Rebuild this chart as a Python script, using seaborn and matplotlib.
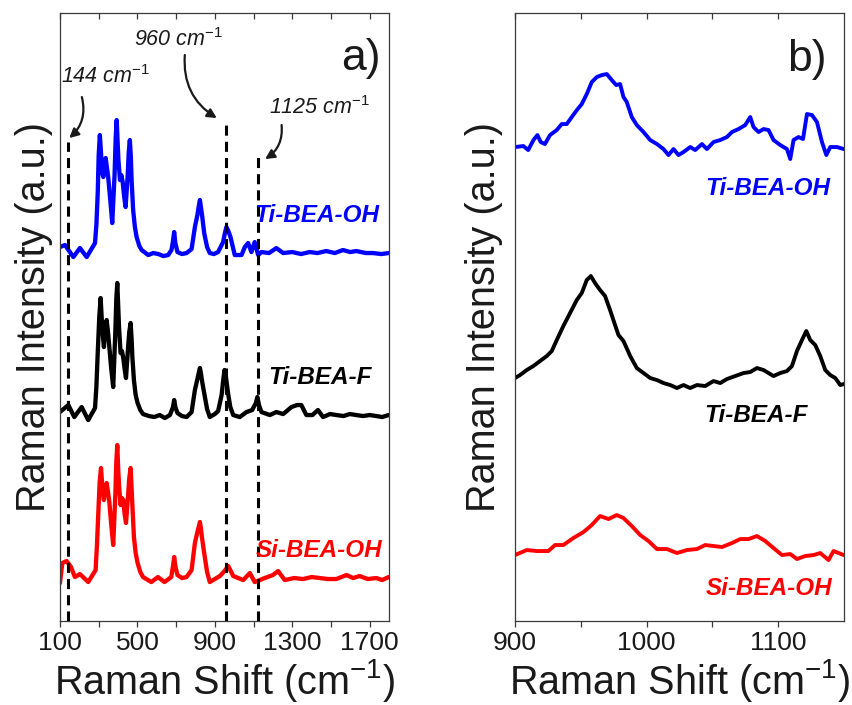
import numpy as np
import pandas as pd
import matplotlib
matplotlib.use("Agg")
import matplotlib.pyplot as plt
import seaborn as sns

# ---------------- data: full-range Raman spectra (panel a) ----------------
ti_oh_shift = [100, 126, 169, 203, 238, 281, 288, 295, 300, 306, 312, 318, 324, 330, 336,
               342, 349, 360, 370, 382, 388, 393, 398, 402, 410, 417, 424, 432, 439, 450,
               455, 461, 466, 470, 478, 487, 496, 510, 522, 556, 582, 608, 634, 659, 676,
               684, 690, 696, 707, 730, 754, 780, 797, 810, 818, 823, 828, 834, 845, 860,
               874, 895, 917, 943, 952, 960, 970, 981, 1003, 1038, 1055, 1072, 1089, 1106,
               1124, 1141, 1180, 1218, 1253, 1300, 1345, 1390, 1430, 1476, 1520, 1562,
               1600, 1631, 1680, 1717, 1760, 1798]
ti_oh_int = [8, 10, -2, 7, -2, 12, 30, 62, 100, 120, 102, 82, 78, 92, 97,
             88, 78, 55, 32, 80, 118, 135, 112, 95, 75, 80, 73, 58, 48, 80,
             102, 115, 98, 75, 45, 28, 18, 9, 5, 0, 2, 1, -1, 0, 5,
             14, 23, 12, 3, 1, 2, 6, 28, 40, 50, 55, 48, 40, 22, 8,
             2, 1, 3, 13, 22, 28, 24, 18, 0, 0, 8, 12, 3, 13,
             0, 3, 2, 7, 2, 3, 1, 3, 2, 4, 2, 5,
             3, 4, 2, 2, 1, 2]

ti_f_shift = [100, 143, 174, 212, 246, 281, 288, 295, 303, 310, 318, 327, 334, 341, 348,
              355, 365, 375, 386, 391, 396, 401, 405, 413, 420, 427, 434, 441, 452, 458,
              465, 470, 474, 482, 491, 501, 515, 529, 560, 587, 615, 642, 668, 684, 690,
              696, 707, 730, 754, 780, 797, 810, 818, 823, 828, 834, 845, 860, 874, 900,
              917, 935, 944, 950, 956, 969, 980, 995, 1029, 1064, 1093, 1112, 1120, 1128,
              1141, 1184, 1218, 1253, 1296, 1325, 1347, 1373, 1404, 1433, 1459, 1495,
              1528, 1565, 1597, 1630, 1666, 1700, 1734, 1765, 1798]
ti_f_int = [5, 12, 0, 10, -3, 9, 30, 64, 100, 119, 90, 70, 88, 97, 85,
            70, 48, 30, 85, 118, 134, 110, 90, 64, 66, 59, 48, 39, 70, 85,
            94, 78, 60, 37, 22, 14, 7, 3, 1, 0, 2, -1, 2, 10, 17,
            10, 4, 1, 0, 5, 27, 38, 45, 49, 44, 36, 24, 8, 0, 3,
            6, 22, 38, 47, 42, 23, 10, 2, 0, 5, 7, 14, 20, 12,
            5, 2, 5, 3, 10, 12, 12, 2, 2, 7, 0, 3,
            2, 1, 3, 2, 1, 2, 1, 0, 2]

si_oh_shift = [100, 112, 134, 157, 177, 203, 246, 284, 291, 298, 305, 312, 320, 327, 334,
               341, 348, 355, 365, 375, 386, 391, 396, 401, 405, 413, 420, 427, 434, 441,
               452, 458, 465, 470, 474, 482, 491, 501, 515, 529, 572, 606, 640, 675, 684,
               690, 696, 707, 730, 754, 780, 797, 810, 818, 823, 828, 834, 845, 860, 874,
               900, 926, 950, 969, 985, 995, 1047, 1081, 1106, 1158, 1200, 1227, 1261,
               1310, 1356, 1400, 1442, 1485, 1528, 1580, 1615, 1648, 1690, 1734, 1765,
               1798]
si_oh_int = [-3, 17, 19, 13, 3, 6, -2, 10, 35, 67, 98, 112, 90, 80, 92,
             97, 88, 78, 55, 35, 85, 118, 135, 110, 95, 75, 82, 80, 66, 57,
             85, 102, 112, 92, 75, 43, 27, 17, 8, 3, -2, 3, -2, 3, 14,
             23, 14, 5, 2, 3, 10, 37, 48, 54, 58, 52, 42, 27, 8, -2,
             1, 4, 9, 14, 8, 4, 0, 7, -2, 2, 5, 9, 0,
             2, 1, 3, 2, 1, 1, 5, 2, 4, 1, 2, 0,
             3]

# ---------------- data: 900-1150 cm-1 window (panel b) ----------------
zoom_ti_oh_shift = [900, 906.3, 910, 914, 917, 919.5, 922.7, 926.6, 931.7, 935.5, 939.3,
                    943.1, 947, 950.7, 954.5, 958.3, 962.1, 966, 969.7, 973.5, 976.8,
                    979.8, 982.4, 984.9, 988.7, 992.5, 997.6, 1002.7, 1007.8, 1012.8,
                    1016.6, 1020.4, 1024.2, 1028, 1033.1, 1036.9, 1042, 1045.8, 1050.8,
                    1055.9, 1061, 1064.8, 1069.8, 1074.9, 1078.7, 1081.2, 1085, 1088.8,
                    1092.6, 1096.4, 1101.5, 1106.6, 1109.1, 1111.6, 1115.4, 1118.8,
                    1121.8, 1125.6, 1129.4, 1133.2, 1136.5, 1139.5, 1144.6, 1149.7]
zoom_ti_oh_int = [0, 1, -3, 7, 12, 5, 3, 12, 17, 23, 23,
                  30, 37, 43, 53, 65, 70, 72, 73, 67, 62,
                  63, 50, 45, 30, 22, 15, 7, 3, -2,
                  -8, -2, -8, -5, 0, -3, 3, -2, 5,
                  7, 10, 15, 18, 22, 30, 20, 15, 18,
                  17, 7, 2, -2, -12, 7, 10, 8,
                  33, 32, 25, 5, -8, 0, 0, -2]

zoom_ti_f_shift = [900, 903.8, 908.9, 913.9, 919, 924.1, 927.9, 931.7, 936.7, 941.8, 946.9,
                   950.7, 954.5, 957.6, 960.8, 964.6, 968.4, 972.2, 976, 978.6, 982.4,
                   987.5, 992.5, 997.6, 1002.7, 1007.8, 1012.8, 1017.9, 1023, 1028,
                   1033.1, 1038.2, 1044.5, 1050.8, 1055.9, 1061, 1067.3, 1073.6, 1078.7,
                   1083.8, 1088.8, 1092.6, 1096.4, 1101.5, 1106.6, 1110.4, 1114.2, 1118,
                   1121.3, 1124.3, 1128.1, 1131.9, 1135.7, 1139.5, 1143.3, 1147.1, 1149.7]
zoom_ti_f_int = [0, 3, 8, 12, 17, 22, 27, 38, 52, 65, 78,
                 85, 98, 102, 95, 88, 82, 68, 53, 43, 37,
                 22, 10, 5, 0, -2, -5, -7, -10, -7,
                 -10, -7, -8, -3, -5, -1, 2, 5, 6,
                 10, 8, 5, 2, 5, 7, 12, 27, 38,
                 47, 38, 33, 22, 8, 3, 0, -7, -6]

zoom_si_oh_shift = [900, 908.9, 916.5, 925.3, 930.4, 936.7, 944.3, 952, 958.3, 964.6, 971,
                    977.3, 982.4, 988.7, 995.1, 1001.4, 1007.8, 1015.4, 1023, 1030.6,
                    1038.2, 1044.5, 1050.8, 1057.2, 1064.8, 1071.1, 1077.5, 1083.8,
                    1090.1, 1096.4, 1102.8, 1109.1, 1114.2, 1120.5, 1126.8, 1131.9,
                    1138.2, 1142, 1149.7]
zoom_si_oh_int = [-2, 3, 2, 2, 8, 8, 15, 21, 28, 37, 34,
                  38, 35, 27, 18, 12, 4, 4, 0, 3,
                  4, 8, 7, 6, 10, 14, 14, 17,
                  12, 5, -2, -1, -6, -3, -2, 0,
                  -7, 2, -2]

sample_names = ["Ti-BEA-OH", "Ti-BEA-F", "Si-BEA-OH"]
sample_colors = ["#0000ff", "#000000", "#ff0000"]

# marked band positions (cm-1)
band_positions = [144, 960, 1125]
band_labels = ["144 cm$^{-1}$", "960 cm$^{-1}$", "1125 cm$^{-1}$"]

# ---------------- style ----------------
sns.set_style("white")
plt.rcParams["font.family"] = ["Liberation Sans", "DejaVu Sans"]
plt.rcParams["mathtext.fontset"] = "custom"
plt.rcParams["mathtext.rm"] = "Liberation Sans"
plt.rcParams["mathtext.it"] = "Liberation Sans:italic"
plt.rcParams["mathtext.bf"] = "Liberation Sans:bold"
ink = "#1a1a1a"
plt.rcParams["text.color"] = ink
plt.rcParams["axes.labelcolor"] = ink
plt.rcParams["xtick.color"] = ink

fig = plt.figure(figsize=(8.52, 7.05), dpi=100)
ax_a = fig.add_axes([0.0704, 0.1191, 0.3862, 0.8624])
ax_b = fig.add_axes([0.6045, 0.1191, 0.3862, 0.8624])

spine_color = "#3a3a3a"


def draw_stack(ax, series, offsets, lw):
    for (xs, ys), off, color in zip(series, offsets, sample_colors):
        df = pd.DataFrame({"shift": xs, "intensity": np.asarray(ys, float) + off})
        sns.lineplot(data=df, x="shift", y="intensity", ax=ax, color=color,
                     lw=lw, estimator=None, sort=False, solid_joinstyle="round")


def style_axes(ax, xlim, major, minor, label_pad):
    ax.set_xlim(*xlim)
    ax.set_ylim(0, 608)
    ax.set_xticks(major)
    ax.set_xticks(minor, minor=True)
    ax.set_yticks([])
    ax.tick_params(axis="x", which="both", bottom=True, top=False, direction="out",
                   length=4, width=0.9, color=spine_color, labelsize=19, pad=3.5)
    for s in ax.spines.values():
        s.set_color(spine_color)
        s.set_linewidth(0.9)
    ax.set_xlabel("Raman Shift (cm$^{-1}$)", fontsize=28.5, labelpad=1)
    ax.set_ylabel("Raman Intensity (a.u.)", fontsize=28.5, labelpad=label_pad)
    # mirrored ticks along the top edge, pointing into the frame
    top = ax.twiny()
    top.set_xlim(*xlim)
    top.set_xticks(major)
    top.set_xticks(minor, minor=True)
    top.tick_params(axis="x", which="both", top=True, bottom=False, direction="in",
                    length=4, width=0.9, color=spine_color, labeltop=False,
                    labelbottom=False)
    for s in top.spines.values():
        s.set_visible(False)


# ---------------- panel a ----------------
draw_stack(ax_a,
           [(ti_oh_shift, ti_oh_int), (ti_f_shift, ti_f_int), (si_oh_shift, si_oh_int)],
           [366, 204, 41], lw=3.1)

band_tops = [479, 499, 464]
for pos, top in zip(band_positions, band_tops):
    ax_a.plot([pos, pos], [0, top], color="black", lw=2.2,
              linestyle=(0, (3.3, 2.0)), zorder=3)

label_xy = [(337, 544), (714, 581), (1442, 513)]
arrow_tail = [(213, 524), (745, 566), (1245, 496)]
arrow_tip = [(148, 483), (910, 503), (1160, 462)]
arrow_rad = [-0.3, 0.3, -0.3]
for text, (tx, ty), tail, tip, rad in zip(band_labels, label_xy, arrow_tail,
                                          arrow_tip, arrow_rad):
    ax_a.text(tx, ty, text, fontsize=15.5, fontstyle="italic", ha="center",
              va="center")
    ax_a.annotate("", xy=tip, xytext=tail,
                  arrowprops=dict(arrowstyle="-|>,head_length=0.55,head_width=0.28",
                                  connectionstyle=f"arc3,rad={rad}", lw=1.6,
                                  color=ink, shrinkA=0, shrinkB=0))

for name, color, (x, y) in zip(sample_names, sample_colors,
                               [(1752, 406), (1710, 244), (1767, 71)]):
    ax_a.text(x, y, name, color=color, fontsize=17.5, fontweight="bold",
              fontstyle="italic", ha="right", va="center")

ax_a.text(0.973, 0.926, "a)", transform=ax_a.transAxes, fontsize=32,
          ha="right", va="center")
style_axes(ax_a, (100, 1800), [100, 500, 900, 1300, 1700], [300, 700, 1100, 1500], 5)

# ---------------- panel b ----------------
draw_stack(ax_b,
           [(zoom_ti_oh_shift, zoom_ti_oh_int), (zoom_ti_f_shift, zoom_ti_f_int),
            (zoom_si_oh_shift, zoom_si_oh_int)],
           [474, 243, 68], lw=2.8)

for name, color, (x, y) in zip(sample_names, sample_colors,
                               [(1139.5, 433), (1122.8, 206), (1141, 33)]):
    ax_b.text(x, y, name, color=color, fontsize=17.5, fontweight="bold",
              fontstyle="italic", ha="right", va="center")

ax_b.text(0.948, 0.924, "b)", transform=ax_b.transAxes, fontsize=32,
          ha="right", va="center")
style_axes(ax_b, (900, 1150), [900, 1000, 1100], [950, 1050], 9)

fig.savefig("out.png", dpi=100)
